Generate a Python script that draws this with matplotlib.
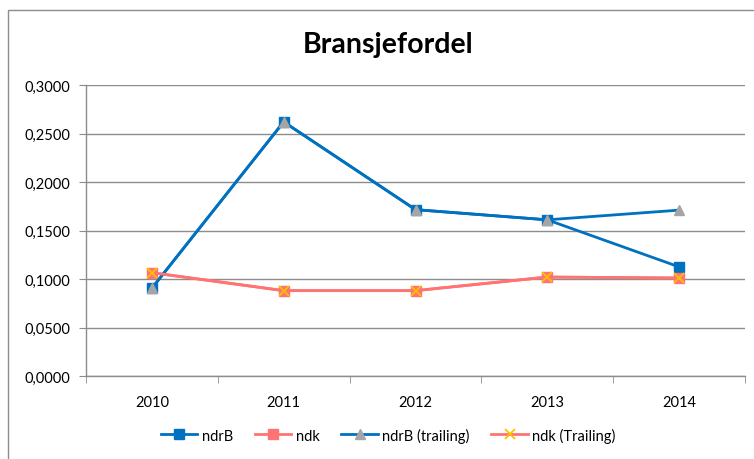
import numpy as np
import matplotlib.pyplot as plt
from matplotlib.patches import Rectangle
from matplotlib.ticker import FixedLocator, FuncFormatter

plt.rcParams['font.family'] = ['Lato', 'DejaVu Sans']

years = ['2010', '2011', '2012', '2013', '2014']
ndrB = [0.0905, 0.2620, 0.1715, 0.1610, 0.1125]
ndk = [0.1065, 0.0880, 0.0880, 0.1020, 0.1010]
ndrB_trailing = [0.0905, 0.2620, 0.1715, 0.1610, 0.1710]
ndk_trailing = [0.1065, 0.0880, 0.0880, 0.1020, 0.1010]
y_ticks = [0.0, 0.05, 0.10, 0.15, 0.20, 0.25, 0.30]

blue = '#0070C0'
salmon = '#FF7373'
gray = '#A5A5A5'
orange = '#FFC000'
grid_col = '#8C8C8C'

fig = plt.figure(figsize=(7.54, 4.6), dpi=100)
# outer chart frame (cropped at right/bottom)
fig.patches.append(Rectangle((8 / 754, -0.1), 1.2, (460 - 11) / 460 + 0.1,
                             transform=fig.transFigure, fill=False,
                             edgecolor='#8C8C8C', linewidth=1.0))

ax = fig.add_axes([86 / 754, 83 / 460, 659 / 754, 291 / 460])
x = np.arange(len(years))

ax.plot(x, ndrB, color=blue, lw=2, marker='s', ms=7, mfc=blue, mec=blue, label='ndrB')
ax.plot(x, ndk, color=salmon, lw=2, marker='s', ms=7, mfc=salmon, mec=salmon, label='ndk')
ax.plot(x, ndrB_trailing, color=blue, lw=2, marker='^', ms=7, mfc=gray, mec=gray,
        label='ndrB (trailing)')
ax.plot(x, ndk_trailing, color=salmon, lw=2, marker='x', ms=7, mew=1.3, mec=orange,
        label='ndk (Trailing)')

ax.set_xlim(-0.5, len(years) - 0.5)
ax.set_ylim(0, 0.3)
ax.set_yticks(y_ticks)
ax.yaxis.set_major_formatter(FuncFormatter(lambda v, p: f'{v:.4f}'.replace('.', ',')))
ax.set_xticks(x)
ax.set_xticklabels(years)
ax.xaxis.set_minor_locator(FixedLocator(np.arange(-0.5, len(years), 1.0)))
ax.tick_params(axis='x', which='major', length=0, pad=14, labelsize=10.5)
ax.tick_params(axis='x', which='minor', length=5, color=grid_col, direction='out')
ax.tick_params(axis='y', length=5, color=grid_col, labelsize=10.5, pad=6)

ax.grid(True, axis='y', color=grid_col, lw=1)
ax.set_axisbelow(True)
for s in ['top', 'right']:
    ax.spines[s].set_visible(False)
for s in ['left', 'bottom']:
    ax.spines[s].set_color(grid_col)
    ax.spines[s].set_linewidth(1)

fig.text(0.515, 1 - 45 / 460, 'Bransjefordel', ha='center', va='center',
         fontsize=20.5, fontweight='bold')

fig.legend(loc='center', bbox_to_anchor=(0.515, 1 - 436 / 460), ncol=4, frameon=False,
           fontsize=10.5, handlelength=2.5, columnspacing=1.5, handletextpad=0.3)

plt.savefig('out.png', dpi=100)
